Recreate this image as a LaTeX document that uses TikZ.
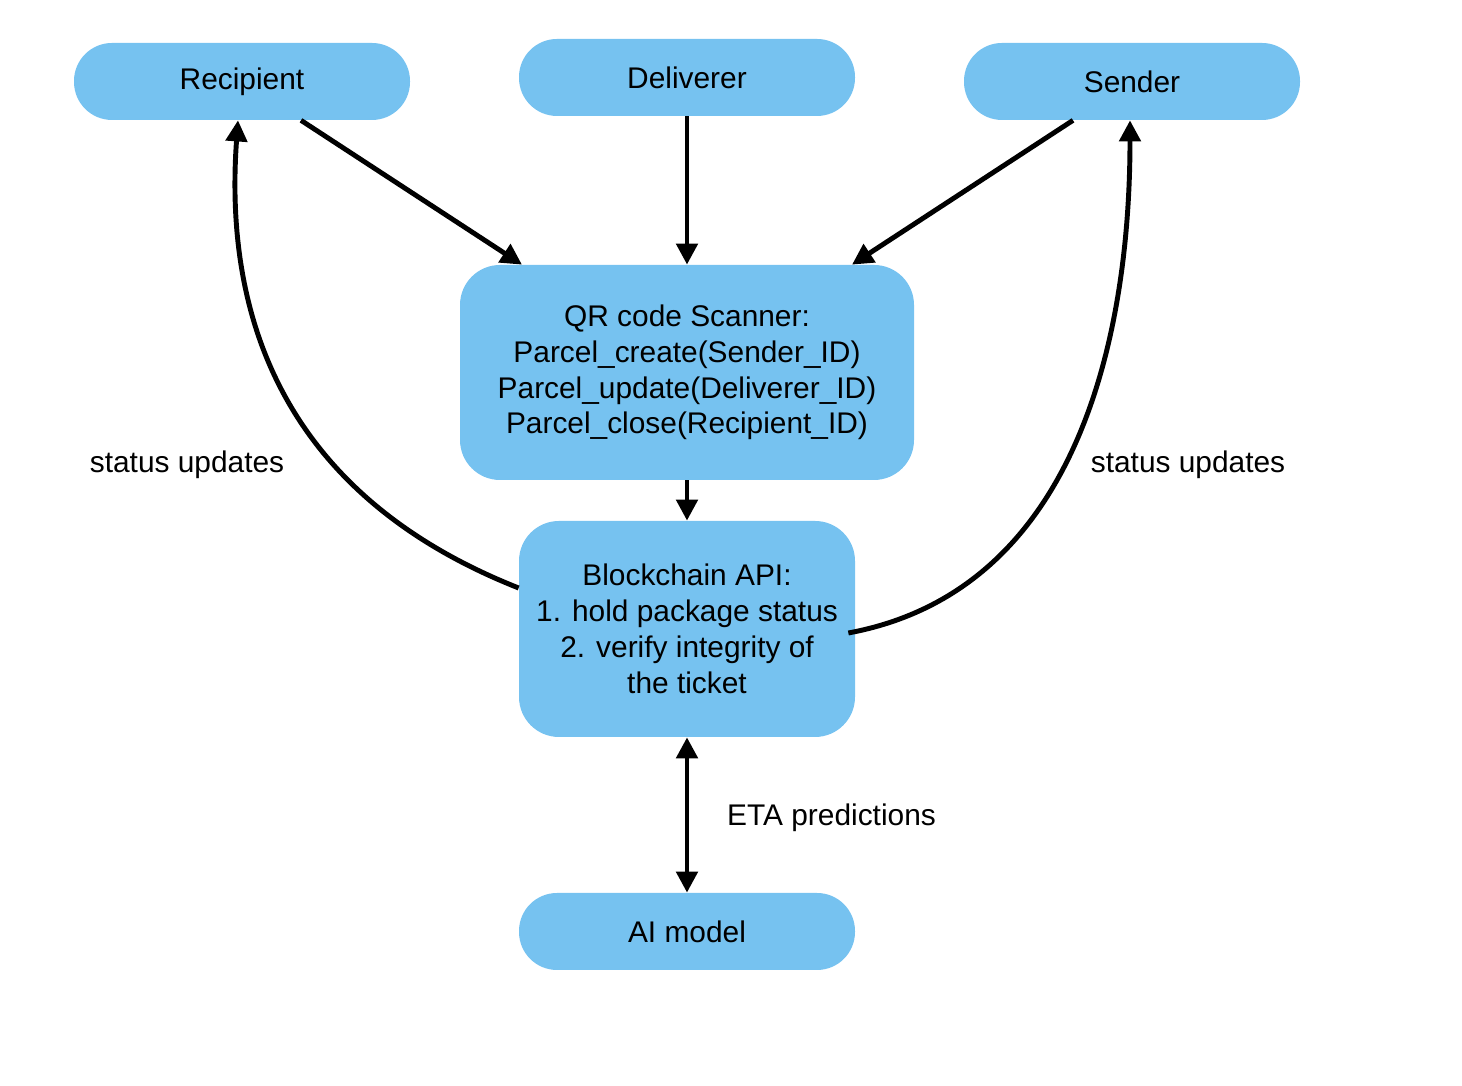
\documentclass[tikz,border=0pt]{standalone}
\usepackage{fontspec}
\setmainfont{Liberation Sans}
\usetikzlibrary{arrows.meta}
\definecolor{boxblue}{RGB}{118,194,240}

\begin{document}
\begin{tikzpicture}[every node/.style={font=\fontsize{17}{20.4}\selectfont}, >={Triangle[length=12pt,width=12pt]},
	pill/.style={fill=boxblue, rounded corners=0.76cm, minimum width=6.72cm, minimum height=1.54cm, inner sep=0pt},
	block/.style={fill=boxblue, rounded corners=0.8cm, align=center, inner sep=0pt},
	link/.style={->, line width=2.8pt}]
	\useasboundingbox (0,0) rectangle (29.24,21.72);
	\node[pill] (rec) at (4.84,20.09) {Recipient};
	\node[pill] (dlv) at (13.74,20.17) {Deliverer};
	\node[pill] (snd) at (22.64,20.09) {Sender};
	\node[block, minimum width=9.08cm, minimum height=4.3cm] (qr) at (13.74,14.27) {QR code Scanner:\\Parcel\_create(Sender\_ID)\\Parcel\_update(Deliverer\_ID)\\Parcel\_close(Recipient\_ID)};
	\node[block, minimum width=6.72cm, minimum height=4.32cm] (bc) at (13.74,9.14) {Blockchain API:\\1. hold package status\\2. verify integrity of\\the ticket};
	\node[pill] (ai) at (13.74,3.09) {AI model};
	\draw[link] ([xshift=1.18cm]rec.south) -- ([xshift=-3.3cm]qr.north);
	\draw[link] (dlv.south) -- (qr.north);
	\draw[link] ([xshift=-1.18cm]snd.south) -- ([xshift=3.3cm]qr.north);
	\draw[link] (qr.south) -- (bc.north);
	\draw[link, <->] (bc.south) -- (ai.north);
	\draw[link] ([yshift=0.82cm]bc.west) .. controls +(-4.96,1.96) and +(-0.26,-3.6) .. ([xshift=-0.08cm]rec.south);
	\draw[link] ([xshift=-0.14cm,yshift=-0.08cm]bc.east) .. controls +(4.64,0.86) and +(0,-4.2) .. ([xshift=-0.04cm]snd.south);
	\node (lstat) at (3.74,12.42) {status updates};
	\node (rstat) at (23.76,12.42) {status updates};
	\node[anchor=west] (eta) at (14.42,5.36) {ETA predictions};
\end{tikzpicture}
\end{document}
